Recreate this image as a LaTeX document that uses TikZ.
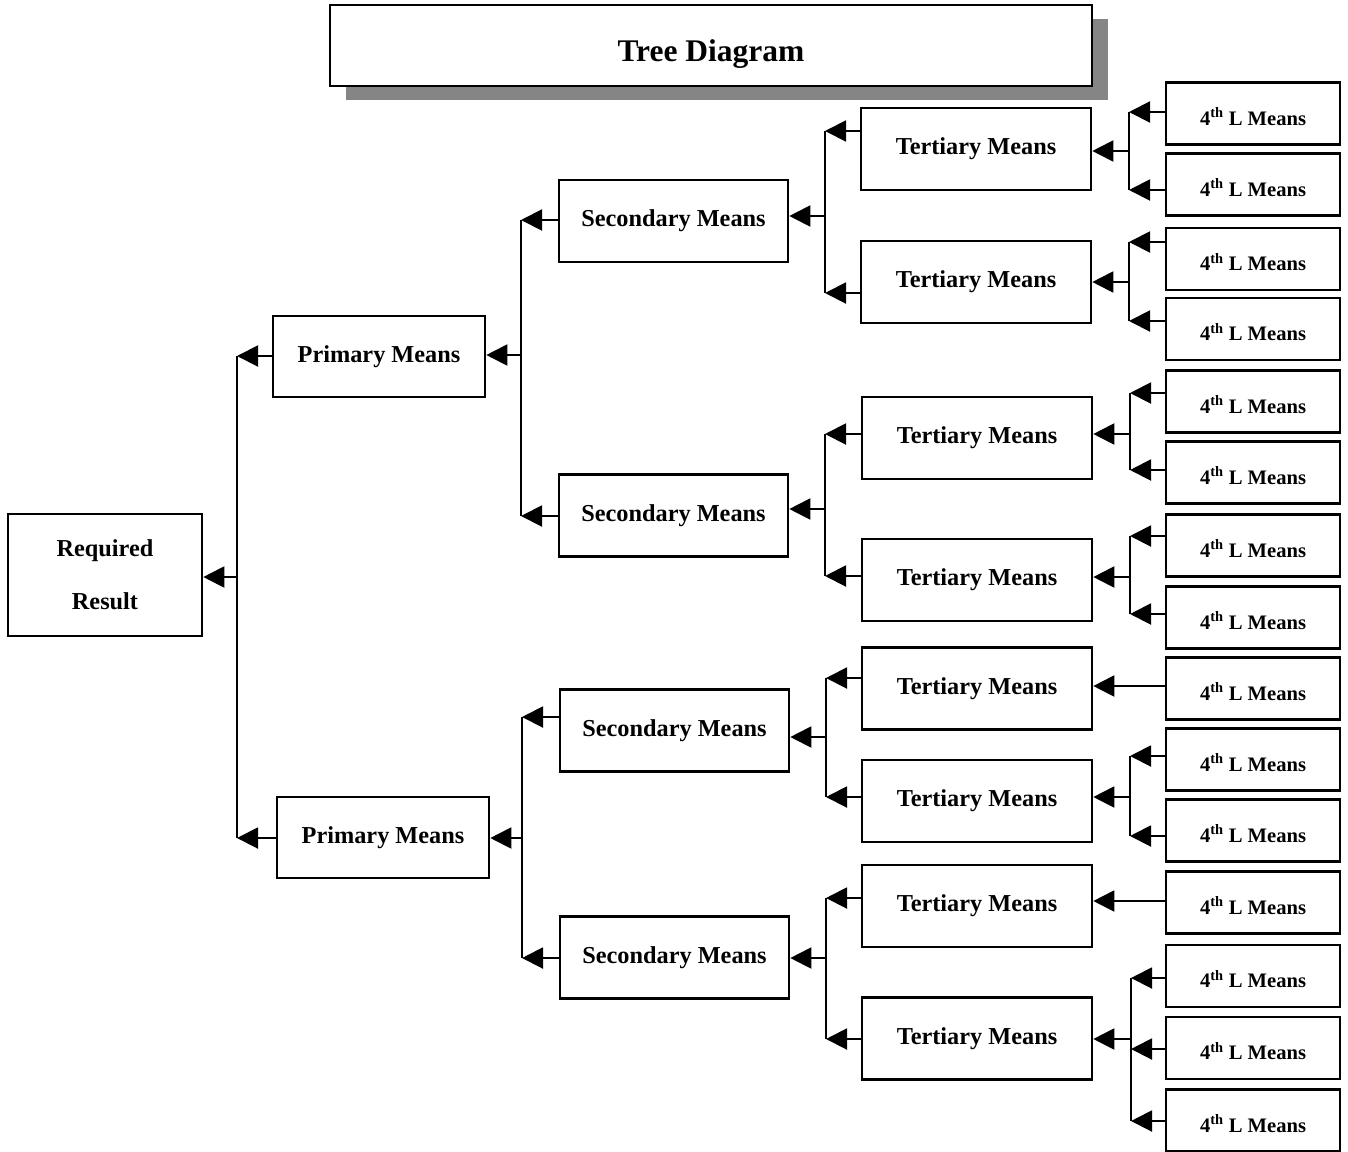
\documentclass[tikz,border=0pt]{standalone}
\usepackage{fontspec}
\setmainfont{Liberation Serif}
\usetikzlibrary{arrows.meta,shadows}
\begin{document}
\begin{tikzpicture}[x=1pt,y=-1pt,
  boxbase/.style={draw, line width=2.6pt, fill=white, inner sep=0pt, align=center},
  mainfont/.style={font=\fontsize{24.3}{29}\selectfont\bfseries},
  titlebox/.style={boxbase, minimum width=762pt, minimum height=81pt,
    font=\fontsize{31.5}{38}\selectfont\bfseries,
    general shadow={fill=black!48, shadow xshift=16pt, shadow yshift=-14pt}},
  rbox/.style={boxbase, mainfont, minimum width=194pt, minimum height=122pt},
  pbox/.style={boxbase, mainfont, minimum width=212pt, minimum height=81pt},
  sbox/.style={boxbase, mainfont, minimum width=229pt, minimum height=82pt},
  tbox/.style={boxbase, mainfont, minimum width=230pt, minimum height=82pt},
  lbox/.style={boxbase, font=\fontsize{20.6}{25}\selectfont\bfseries, minimum width=174pt, minimum height=62pt},
  conn/.style={line width=2pt},
  arr/.style={conn, -{Triangle[length=21pt,width=21pt]}}
]
\useasboundingbox (0,0) rectangle (1348,1151);

% title
\node[titlebox] (title) at (711,45.5) {\raisebox{-9pt}[\height][\depth]{Tree Diagram}};

% root and levels
\node[rbox] (RR) at (105,575) {Required\\[24pt]Result};

\node[pbox] (P1) at (379,356.5) {Primary Means};
\node[pbox] (P2) at (383,837.5) {Primary Means};

\node[sbox] (S1) at (673.5,221) {Secondary Means};
\node[sbox] (S2) at (673.5,515.5) {Secondary Means};
\node[sbox] (S3) at (674.5,730.5) {Secondary Means};
\node[sbox] (S4) at (674.5,957.5) {Secondary Means};

\node[tbox] (T1) at (976,149) {Tertiary Means};
\node[tbox] (T2) at (976,282) {Tertiary Means};
\node[tbox] (T3) at (977,438) {Tertiary Means};
\node[tbox] (T4) at (977,580) {Tertiary Means};
\node[tbox] (T5) at (977,688.5) {Tertiary Means};
\node[tbox] (T6) at (977,801) {Tertiary Means};
\node[tbox] (T7) at (977,906) {Tertiary Means};
\node[tbox] (T8) at (977,1038.5) {Tertiary Means};

\foreach \n/\y in {1/113.5, 2/184.5, 3/259, 4/329, 5/401.5, 6/472.5, 7/545.5, 8/617.5,
                   9/688.5, 10/759.5, 11/830.5, 12/902.5, 13/976, 14/1048, 15/1120.5}
  \node[lbox] (L\n) at (1253,\y) {\raisebox{-3pt}[\height][\depth]{4\textsuperscript{th} L Means}};

% bus points
\coordinate (bR)  at (237,577);
\coordinate (bP1) at (521,355);
\coordinate (bP2) at (522,838);
\coordinate (bS1) at (825,216);
\coordinate (bS2) at (825,509);
\coordinate (bS3) at (826,737);
\coordinate (bS4) at (826,958);
\coordinate (bT1) at (1129,151);
\coordinate (bT2) at (1129,282);
\coordinate (bT3) at (1130,434);
\coordinate (bT4) at (1130,577);
\coordinate (bT6) at (1130,797);
\coordinate (bT8) at (1131,1039);

% Required Result <- Primary
\draw[arr] (bR) -- (RR.east |- bR);
\draw[conn] (bR |- 0,356) -- (bR |- 0,838);
\draw[arr] (P1.west |- 0,356) -- (bR |- 0,356);
\draw[arr] (P2.west |- 0,838) -- (bR |- 0,838);

% Primary <- Secondary
\draw[arr] (bP1) -- (P1.east |- bP1);
\draw[conn] (bP1 |- 0,220) -- (bP1 |- 0,516);
\draw[arr] (S1.west |- 0,220) -- (bP1 |- 0,220);
\draw[arr] (S2.west |- 0,516) -- (bP1 |- 0,516);

\draw[arr] (bP2) -- (P2.east |- bP2);
\draw[conn] (bP2 |- 0,717) -- (bP2 |- 0,958);
\draw[arr] (S3.west |- 0,717) -- (bP2 |- 0,717);
\draw[arr] (S4.west |- 0,958) -- (bP2 |- 0,958);

% Secondary <- Tertiary
\draw[arr] (bS1) -- (S1.east |- bS1);
\draw[conn] (bS1 |- 0,131) -- (bS1 |- 0,293);
\draw[arr] (T1.west |- 0,131) -- (bS1 |- 0,131);
\draw[arr] (T2.west |- 0,293) -- (bS1 |- 0,293);

\draw[arr] (bS2) -- (S2.east |- bS2);
\draw[conn] (bS2 |- 0,434) -- (bS2 |- 0,576);
\draw[arr] (T3.west |- 0,434) -- (bS2 |- 0,434);
\draw[arr] (T4.west |- 0,576) -- (bS2 |- 0,576);

\draw[arr] (bS3) -- (S3.east |- bS3);
\draw[conn] (bS3 |- 0,678) -- (bS3 |- 0,797);
\draw[arr] (T5.west |- 0,678) -- (bS3 |- 0,678);
\draw[arr] (T6.west |- 0,797) -- (bS3 |- 0,797);

\draw[arr] (bS4) -- (S4.east |- bS4);
\draw[conn] (bS4 |- 0,898) -- (bS4 |- 0,1039);
\draw[arr] (T7.west |- 0,898) -- (bS4 |- 0,898);
\draw[arr] (T8.west |- 0,1039) -- (bS4 |- 0,1039);

% Tertiary <- 4th level
\draw[arr] (bT1) -- (T1.east |- bT1);
\draw[conn] (bT1 |- 0,112) -- (bT1 |- 0,190);
\draw[arr] (L1.west |- 0,112) -- (bT1 |- 0,112);
\draw[arr] (L2.west |- 0,190) -- (bT1 |- 0,190);

\draw[arr] (bT2) -- (T2.east |- bT2);
\draw[conn] (bT2 |- 0,242) -- (bT2 |- 0,321);
\draw[arr] (L3.west |- 0,242) -- (bT2 |- 0,242);
\draw[arr] (L4.west |- 0,321) -- (bT2 |- 0,321);

\draw[arr] (bT3) -- (T3.east |- bT3);
\draw[conn] (bT3 |- 0,393) -- (bT3 |- 0,470);
\draw[arr] (L5.west |- 0,393) -- (bT3 |- 0,393);
\draw[arr] (L6.west |- 0,470) -- (bT3 |- 0,470);

\draw[arr] (bT4) -- (T4.east |- bT4);
\draw[conn] (bT4 |- 0,536) -- (bT4 |- 0,614);
\draw[arr] (L7.west |- 0,536) -- (bT4 |- 0,536);
\draw[arr] (L8.west |- 0,614) -- (bT4 |- 0,614);

\draw[arr] (L9.west |- 0,686) -- (T5.east |- 0,686);

\draw[arr] (bT6) -- (T6.east |- bT6);
\draw[conn] (bT6 |- 0,756) -- (bT6 |- 0,836);
\draw[arr] (L10.west |- 0,756) -- (bT6 |- 0,756);
\draw[arr] (L11.west |- 0,836) -- (bT6 |- 0,836);

\draw[arr] (L12.west |- 0,901) -- (T7.east |- 0,901);

\draw[arr] (bT8) -- (T8.east |- bT8);
\draw[conn] (bT8 |- 0,978) -- (bT8 |- 0,1121);
\draw[arr] (L13.west |- 0,978) -- (bT8 |- 0,978);
\draw[arr] (L14.west |- 0,1049) -- (bT8 |- 0,1049);
\draw[arr] (L15.west |- 0,1121) -- (bT8 |- 0,1121);
\end{tikzpicture}
\end{document}
